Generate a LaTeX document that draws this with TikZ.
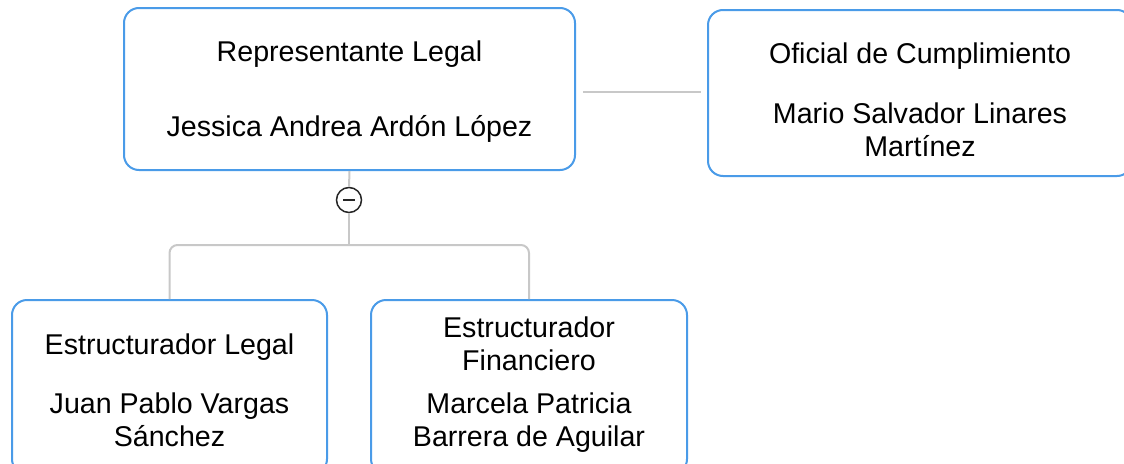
\documentclass[tikz,border=0pt]{standalone}
\usepackage{fontspec}
\setmainfont{Liberation Sans}
\definecolor{boxblue}{RGB}{74,155,232}
\definecolor{linkgray}{RGB}{200,200,200}
\begin{document}
\begin{tikzpicture}[x=1pt,y=-1pt,
 cargo/.style={draw=boxblue,line width=2pt,rounded corners=15pt,fill=white,inner sep=0pt},
 tag/.style={align=center,inner sep=0pt,font=\fontsize{28.6}{33}\selectfont},
 link/.style={draw=linkgray,line width=2pt}]
 \useasboundingbox (0,0) rectangle (1124,463);
 % boxes
 \node[cargo,minimum width=451,minimum height=162] (rep) at (349.5,89) {};
 \node[cargo,minimum width=424,minimum height=166] (ofi) at (920,93) {};
 \node[cargo,minimum width=315,minimum height=174] (leg) at (169.5,387) {};
 \node[cargo,minimum width=316,minimum height=174] (fin) at (529,387) {};
 % texts
 \node[tag] (reptext) at ([yshift=-3pt]rep.center) {Representante Legal\\[42pt]Jessica Andrea Ardón López};
 \node[tag] (ofitext) at ([yshift=-7pt]ofi.center) {Oficial de Cumplimiento\\[27pt]Mario Salvador Linares\\Martínez};
 \node[tag] (legtext) at ([yshift=-3pt]leg.center) {Estructurador Legal\\[26pt]Juan Pablo Vargas\\Sánchez};
 \node[tag] (fintext) at ([yshift=2pt]fin.center) {Estructurador\\Financiero\\[10pt]Marcela Patricia\\Barrera de Aguilar};
 % connectors
 \node[circle,draw=black!85,line width=1.5pt,fill=white,minimum size=25,inner sep=0pt] (toggle) at (349,200) {};
 \draw[line width=1.5pt,black!85] ([xshift=-6pt]toggle.center) -- ([xshift=6pt]toggle.center);
 \coordinate (bus) at (349,245);
 \draw[link] (rep.south) -- (toggle.north);
 \draw[link] (toggle.south) -- (bus);
 \draw[link,rounded corners=8pt] (leg.north) |- (bus) -| (fin.north);
 \draw[link] ([shift={(7pt,-3pt)}]rep.east) -- ([shift={(-6pt,1pt)}]ofi.west);
\end{tikzpicture}
\end{document}
